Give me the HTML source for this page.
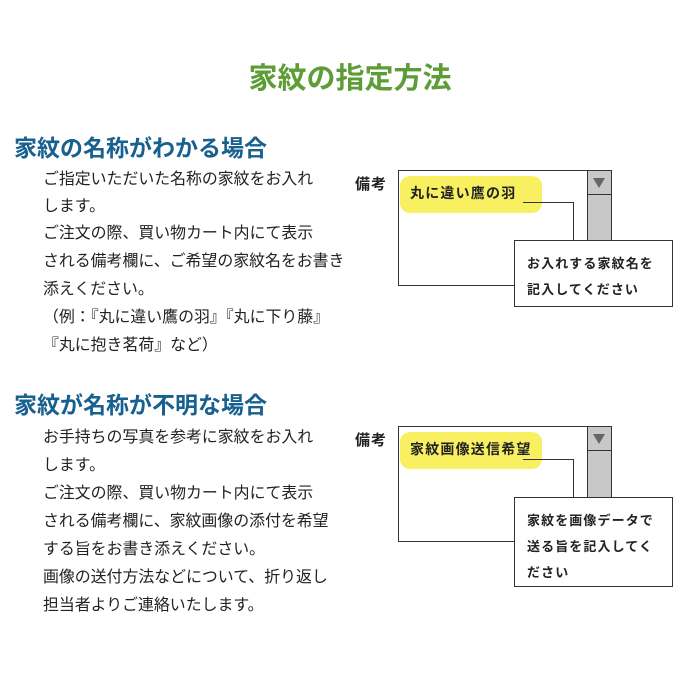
<!DOCTYPE html>
<html><head><meta charset="utf-8"><style>
body{margin:0;width:700px;height:700px;background:#fff;position:relative;overflow:hidden;font-family:"Liberation Sans","Noto Sans CJK JP",sans-serif;}
div,span{position:absolute;box-sizing:border-box;white-space:nowrap}
.t{left:0;width:700px;text-align:center;top:55px;font-size:29px;font-weight:bold;color:#5e9c36}
.h{left:14px;font-size:23px;font-weight:bold;color:#17608f}
.p{left:43px;font-size:15.9px;color:#222;line-height:16px}
.lb{left:355px;font-size:15px;letter-spacing:1px;font-weight:bold;color:#222}
.box{left:398px;width:214px;height:116px;border:1px solid #333;background:#fff}
.sb{left:587px;width:25px;background:#c8c8c8;border:1px solid #333}
.y{left:400px;width:142px;height:37px;background:#f8f060;border-radius:10px;font-size:14px;letter-spacing:1.2px;font-weight:bold;padding:7px 0 0 10px;color:#222}
.ln{background:#333}
.c{left:514px;width:159px;border:1px solid #333;background:#fff;font-size:13px;letter-spacing:1.1px;font-weight:bold;color:#222;line-height:26px;padding:10px 0 0 12px;white-space:normal}
.ar{width:0;height:0;border-left:6px solid transparent;border-right:6px solid transparent;border-top:10px solid #666}
</style></head><body>
<div class="t">家紋の指定方法</div>

<div class="h" style="top:129px">家紋の名称がわかる場合</div>
<div class="p" style="top:172px">ご指定いただいた名称の家紋をお入れ</div>
<div class="p" style="top:199px">します。</div>
<div class="p" style="top:226px">ご注文の際、買い物カート内にて表示</div>
<div class="p" style="top:254px">される備考欄に、ご希望の家紋名をお書き</div>
<div class="p" style="top:282px">添えください。</div>
<div class="p" style="top:310px">（例：『丸に違い鷹の羽』『丸に下り藤』</div>
<div class="p" style="top:338px">『丸に抱き茗荷』など）</div>

<div class="lb" style="top:173px">備考</div>
<div class="box" style="top:170px"></div>
<div class="sb" style="top:170px;height:116px"></div>
<div class="sb" style="top:170px;height:25px"></div>
<div class="ar" style="left:593px;top:178px"></div>
<div class="y" style="top:176px">丸に違い鷹の羽</div>
<div class="ln" style="left:523px;top:202px;width:51px;height:1px"></div>
<div class="ln" style="left:573px;top:202px;width:1px;height:38px"></div>
<div class="c" style="top:240px;height:67px">お入れする家紋名を<br>記入してください</div>

<div class="h" style="top:386px">家紋が名称が不明な場合</div>
<div class="p" style="top:430px">お手持ちの写真を参考に家紋をお入れ</div>
<div class="p" style="top:458px">します。</div>
<div class="p" style="top:486px">ご注文の際、買い物カート内にて表示</div>
<div class="p" style="top:514px">される備考欄に、家紋画像の添付を希望</div>
<div class="p" style="top:542px">する旨をお書き添えください。</div>
<div class="p" style="top:570px">画像の送付方法などについて、折り返し</div>
<div class="p" style="top:598px">担当者よりご連絡いたします。</div>

<div class="lb" style="top:429px">備考</div>
<div class="box" style="top:426px"></div>
<div class="sb" style="top:426px;height:116px"></div>
<div class="sb" style="top:426px;height:25px"></div>
<div class="ar" style="left:593px;top:434px"></div>
<div class="y" style="top:432px">家紋画像送信希望</div>
<div class="ln" style="left:523px;top:459px;width:51px;height:1px"></div>
<div class="ln" style="left:573px;top:459px;width:1px;height:39px"></div>
<div class="c" style="top:497px;height:90px">家紋を画像データで<br>送る旨を記入してく<br>ださい</div>
</body></html>
